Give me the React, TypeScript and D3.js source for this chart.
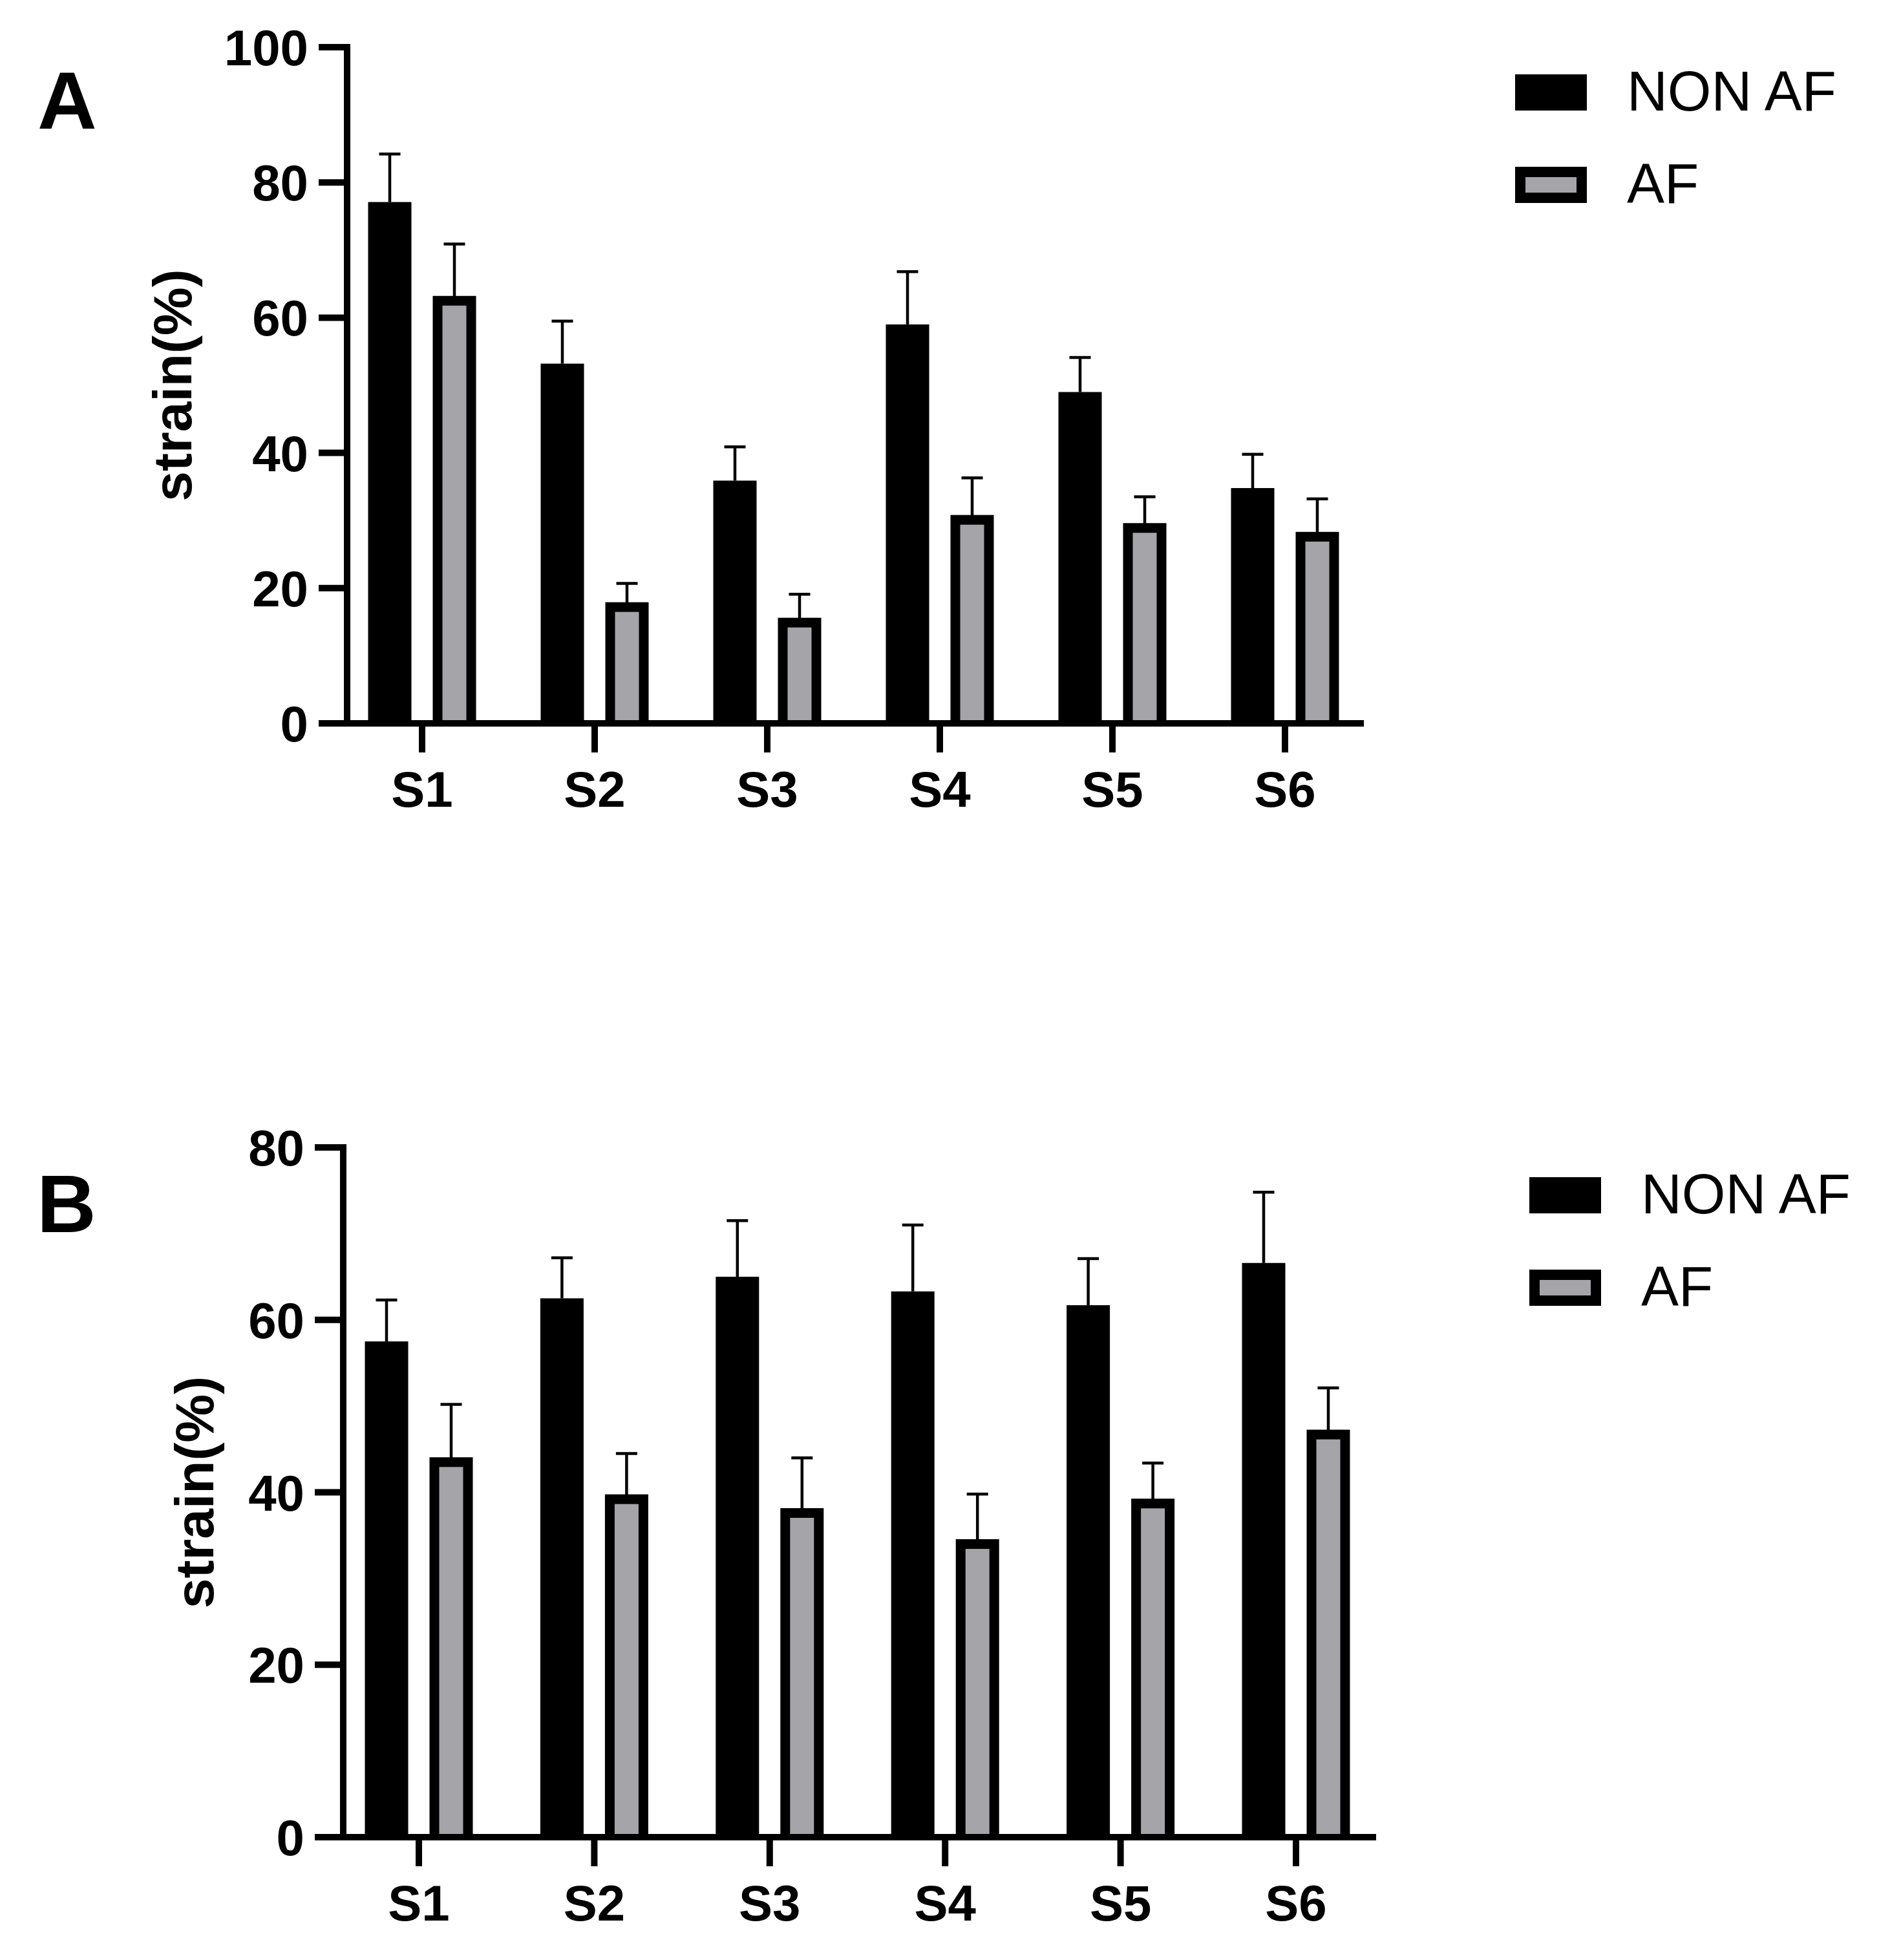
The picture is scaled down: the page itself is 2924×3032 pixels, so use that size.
import * as d3 from 'd3';

const CATEGORIES = ['S1', 'S2', 'S3', 'S4', 'S5', 'S6'];
const SERIES = ['NON AF', 'AF'];

// panel A — mean and upper error (SEM) per segment
const A_NON_AF = [77.1, 53.2, 35.9, 59.0, 49.0, 34.8];
const A_NON_AF_ERR = [7.1, 6.3, 5.0, 7.8, 5.1, 5.0];
const A_AF = [62.5, 17.2, 14.9, 30.1, 28.9, 27.6];
const A_AF_ERR = [8.4, 3.5, 4.2, 6.2, 4.6, 5.6];

// panel B
const B_NON_AF = [57.5, 62.5, 65.0, 63.3, 61.7, 66.6];
const B_NON_AF_ERR = [4.8, 4.7, 6.5, 7.7, 5.4, 8.2];
const B_AF = [43.5, 39.2, 37.6, 34.0, 38.7, 46.7];
const B_AF_ERR = [6.7, 5.3, 6.4, 5.8, 4.7, 5.4];

const A_Y_MAX = 100;
const B_Y_MAX = 80;

const FONT = '"Liberation Sans", Arial, Helvetica, sans-serif';
const GRAY = '#a4a4a9';
const AXIS_W = 10;
const BAR_W = 67;
const BAR_BORDER = 15;
const BAR_OFFSET = 50;
const LABEL_SIZE = 78;

interface PanelLayout {
  letter: string;
  letterX: number;
  letterY: number;
  axisX: number;
  axisEnd: number;
  firstX: number;
  lastX: number;
  yTop: number;
  yZero: number;
  yMax: number;
  titleX: number;
  legendX: number;
  legendY: number;
}

interface PanelProps {
  layout: PanelLayout;
  nonAf: number[];
  nonAfErr: number[];
  af: number[];
  afErr: number[];
}

function Panel({ layout, nonAf, nonAfErr, af, afErr }: PanelProps) {
  const L = layout;
  const x = d3.scalePoint<string>().domain(CATEGORIES).range([L.firstX, L.lastX]);
  const y = d3.scaleLinear().domain([0, L.yMax]).range([L.yZero, L.yTop]);
  const ticks = y.ticks(5);
  const tickLeft = L.axisX - 44;

  const errorBar = (cx: number, v: number, e: number, key: string) => (
    <g key={key} stroke="#000" strokeWidth={4.5}>
      <line x1={cx} x2={cx} y1={y(v)} y2={y(v + e)} />
      <line x1={cx - 16.5} x2={cx + 16.5} y1={y(v + e)} y2={y(v + e)} />
    </g>
  );

  return (
    <g fontFamily={FONT}>
      <text x={L.letterX} y={L.letterY} fontSize={127} fontWeight="bold">
        {L.letter}
      </text>

      {/* bars */}
      {CATEGORIES.map((c, i) => {
        const cx = (x(c) ?? 0) - BAR_OFFSET;
        return (
          <g key={'n' + c}>
            <rect x={cx - BAR_W / 2} y={y(nonAf[i])} width={BAR_W} height={L.yZero - y(nonAf[i])} fill="#000" />
            {errorBar(cx, nonAf[i], nonAfErr[i], 'e')}
          </g>
        );
      })}
      {CATEGORIES.map((c, i) => {
        const cx = (x(c) ?? 0) + BAR_OFFSET;
        const top = y(af[i]);
        return (
          <g key={'a' + c}>
            <rect x={cx - BAR_W / 2} y={top - BAR_BORDER / 2} width={BAR_W} height={L.yZero - top + BAR_BORDER / 2} fill="#000" />
            <rect
              x={cx - BAR_W / 2 + BAR_BORDER}
              y={top + BAR_BORDER / 2}
              width={BAR_W - 2 * BAR_BORDER}
              height={Math.max(0, L.yZero - top - BAR_BORDER / 2 - AXIS_W / 2)}
              fill={GRAY}
            />
            {errorBar(cx, af[i], afErr[i], 'e')}
          </g>
        );
      })}

      {/* y axis */}
      <line x1={L.axisX} x2={L.axisX} y1={L.yTop} y2={L.yZero} stroke="#000" strokeWidth={AXIS_W} strokeLinecap="square" />
      {ticks.map((t) => (
        <g key={t}>
          <line x1={tickLeft} x2={L.axisX} y1={y(t)} y2={y(t)} stroke="#000" strokeWidth={AXIS_W} />
          <text x={tickLeft - 16} y={y(t)} dy="0.36em" textAnchor="end" fontSize={LABEL_SIZE} fontWeight="bold">
            {t}
          </text>
        </g>
      ))}

      {/* x axis */}
      <line x1={tickLeft} x2={L.axisEnd} y1={L.yZero} y2={L.yZero} stroke="#000" strokeWidth={AXIS_W} />
      {CATEGORIES.map((c) => (
        <g key={'x' + c}>
          <line x1={x(c)} x2={x(c)} y1={L.yZero} y2={L.yZero + 45} stroke="#000" strokeWidth={AXIS_W} />
          <text x={x(c)} y={L.yZero + 129} textAnchor="middle" fontSize={LABEL_SIZE} fontWeight="bold">
            {c}
          </text>
        </g>
      ))}

      {/* y title */}
      <text
        transform={`translate(${L.titleX},${(L.yTop + L.yZero) / 2}) rotate(-90)`}
        textAnchor="middle"
        fontSize={84}
        fontWeight="bold"
      >
        strain(%)
      </text>

      {/* legend */}
      {SERIES.map((s, i) => {
        const top = L.legendY + i * 143;
        return (
          <g key={s}>
            <rect x={L.legendX} y={top} width={111} height={56} fill="#000" />
            {i === 1 && <rect x={L.legendX + 16} y={top + 16} width={111 - 32} height={56 - 32} fill={GRAY} />}
            <text x={L.legendX + 173} y={top + 56} fontSize={87}>
              {s}
            </text>
          </g>
        );
      })}
    </g>
  );
}

const LAYOUT_A: PanelLayout = {
  letter: 'A',
  letterX: 58,
  letterY: 199,
  axisX: 537,
  axisEnd: 2110,
  firstX: 653,
  lastX: 1988,
  yTop: 73,
  yZero: 1119,
  yMax: A_Y_MAX,
  titleX: 296,
  legendX: 2344,
  legendY: 115,
};

const LAYOUT_B: PanelLayout = {
  letter: 'B',
  letterX: 57,
  letterY: 1906,
  axisX: 531,
  axisEnd: 2129,
  firstX: 648,
  lastX: 2005,
  yTop: 1775,
  yZero: 2842,
  yMax: B_Y_MAX,
  titleX: 330,
  legendX: 2366,
  legendY: 1821,
};

export default function App() {
  return (
    <svg
      width={2924}
      height={3032}
      viewBox="0 0 2924 3032"
      style={{ position: 'absolute', left: 0, top: 0, background: '#fff' }}
    >
      <rect width={2924} height={3032} fill="#fff" />
      <Panel layout={LAYOUT_A} nonAf={A_NON_AF} nonAfErr={A_NON_AF_ERR} af={A_AF} afErr={A_AF_ERR} />
      <Panel layout={LAYOUT_B} nonAf={B_NON_AF} nonAfErr={B_NON_AF_ERR} af={B_AF} afErr={B_AF_ERR} />
    </svg>
  );
}
